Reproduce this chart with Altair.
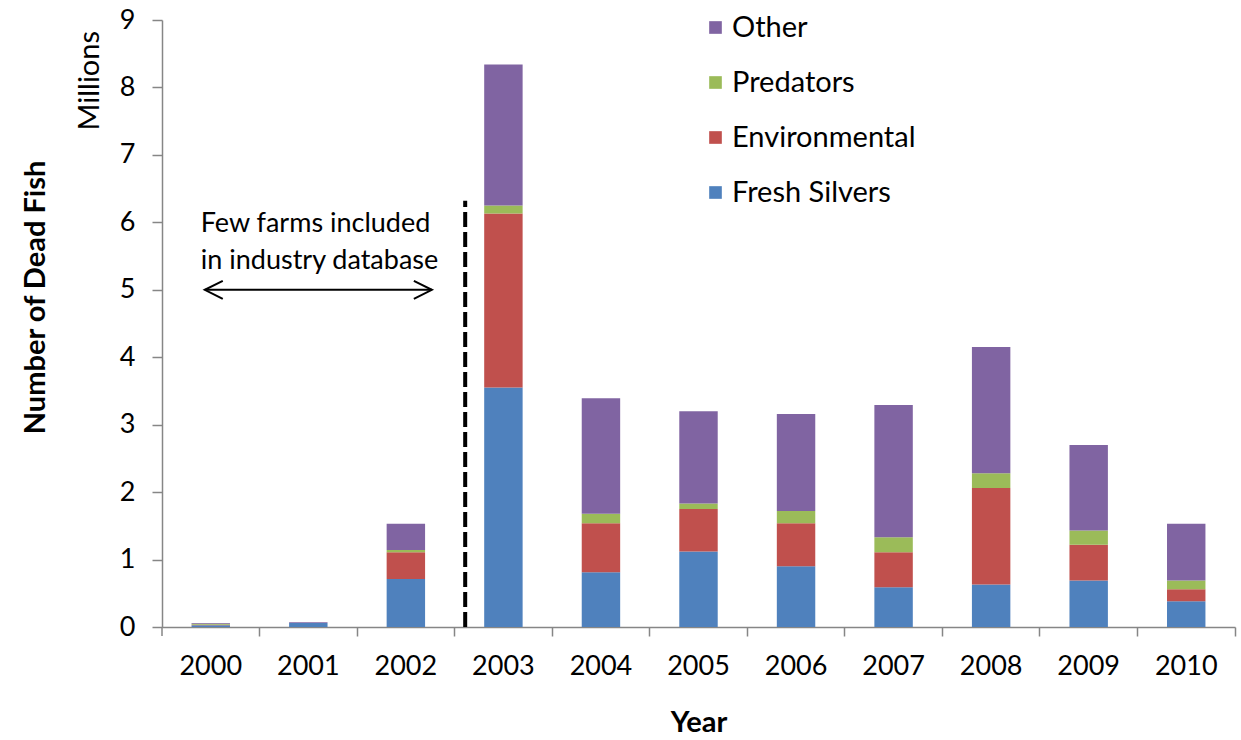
import altair as alt
import pandas as pd

# Dead fish by cause and year (millions)
years = ["2000", "2001", "2002", "2003", "2004", "2005", "2006", "2007", "2008", "2009", "2010"]
fresh_silvers = [0.025, 0.06, 0.71, 3.55, 0.81, 1.12, 0.90, 0.59, 0.63, 0.69, 0.38]
environmental = [0.01, 0.0, 0.40, 2.58, 0.73, 0.63, 0.64, 0.52, 1.43, 0.53, 0.18]
predators = [0.015, 0.0, 0.03, 0.12, 0.14, 0.08, 0.18, 0.22, 0.22, 0.21, 0.13]
other = [0.01, 0.01, 0.39, 2.09, 1.71, 1.37, 1.44, 1.96, 1.87, 1.27, 0.84]

causes = ["Fresh Silvers", "Environmental", "Predators", "Other"]
legend_order = ["Other", "Predators", "Environmental", "Fresh Silvers"]
colors = {"Other": "#8064A2", "Predators": "#9BBB59",
          "Environmental": "#C0504D", "Fresh Silvers": "#4F81BD"}

series = [fresh_silvers, environmental, predators, other]
rows = []
for idx, (cause, vals) in enumerate(zip(causes, series)):
    for yr, v in zip(years, vals):
        rows.append({"Year": yr, "Cause": cause, "Value": v, "stack": idx})
df = pd.DataFrame(rows)

FONT = "Lato"
AXIS_GRAY = "#868686"
PLOT_W = 1073
PAD_INNER = 0.606
STEP = PLOT_W / len(years)
BAND_W = STEP * (1 - PAD_INNER)
GAP_HALF = STEP * PAD_INNER / 2  # distance from a bar edge to the category boundary
TICK_BAND = 1 + GAP_HALF / BAND_W  # ticks on the boundary after each bar

x_enc = alt.X("Year:N", sort=years,
              scale=alt.Scale(domain=years, paddingInner=PAD_INNER, paddingOuter=PAD_INNER / 2),
              axis=alt.Axis(title="Year", labelAngle=0, bandPosition=TICK_BAND,
                            tickSize=9, labelPadding=17,
                            titleFontWeight="bold", titleY=95, titleBaseline="middle"))

bars = alt.Chart(df).mark_bar().encode(
    x=x_enc,
    y=alt.Y("Value:Q", stack="zero",
            scale=alt.Scale(domain=[0, 9], nice=False),
            axis=alt.Axis(title="Number of Dead Fish", values=list(range(10)), format="d",
                          tickSize=10, labelPadding=17, grid=False,
                          titleFontWeight="bold", titleAngle=270,
                          titleX=-127, titleY=277, titleAlign="center",
                          titleBaseline="middle")),
    color=alt.Color("Cause:N",
                    scale=alt.Scale(domain=legend_order,
                                    range=[colors[c] for c in legend_order]),
                    legend=alt.Legend(title=None, orient="none", legendX=539, legendY=-7,
                                      symbolType="square", symbolSize=160,
                                      symbolStrokeWidth=0, labelFontSize=29,
                                      labelFont=FONT, labelOffset=2, labelLimit=400,
                                      rowPadding=25, labelColor="#000000")),
    order=alt.Order("stack:Q", sort="ascending"),
)

# Leading boundary tick below the axis origin
first_tick = alt.Chart(pd.DataFrame({"y": [0.0]})).mark_rule(
    color=AXIS_GRAY, strokeWidth=1.5
).encode(x=alt.value(0), y="y:Q", y2=alt.value(616))

# Dashed divider before 2003
divider = alt.Chart(pd.DataFrame({"y": [0.0], "y2": [6.32]})).mark_rule(
    color="black", strokeWidth=4, strokeDash=[15, 5], xOffset=-19
).encode(
    x=alt.X(datum="2003", bandPosition=0),
    y="y:Q", y2="y2:Q",
)

# Annotation text
note = pd.DataFrame({"y": [5.97, 5.42],
                     "text": ["Few farms included", "in industry database"]})
note_text = alt.Chart(note).mark_text(
    align="left", baseline="middle", fontSize=27, font=FONT, color="black", xOffset=-10
).encode(x=alt.X(datum="2000"), y="y:Q", text="text:N")

# Double-headed arrow
arrow_y = 5.0
arrow_line = alt.Chart(pd.DataFrame({"y": [arrow_y]})).mark_rule(
    color="black", strokeWidth=2, xOffset=-6, x2Offset=26
).encode(x=alt.X(datum="2000"), x2=alt.X2(datum="2002"), y="y:Q")

head_left = alt.Chart(pd.DataFrame({"y": [arrow_y]})).mark_point(
    shape="M1,-1L-1,0L1,1", filled=False, size=324, strokeWidth=2,
    color="black", opacity=1, xOffset=3
).encode(x=alt.X(datum="2000"), y="y:Q")

head_right = alt.Chart(pd.DataFrame({"y": [arrow_y]})).mark_point(
    shape="M-1,-1L1,0L-1,1", filled=False, size=324, strokeWidth=2,
    color="black", opacity=1, xOffset=17
).encode(x=alt.X(datum="2002"), y="y:Q")

# Units label beside the y axis
units = alt.Chart(pd.DataFrame({"y": [8.1], "text": ["Millions"]})).mark_text(
    angle=270, align="center", baseline="middle", fontSize=29, font=FONT, color="black"
).encode(x=alt.value(-72), y="y:Q", text="text:N")

chart = alt.layer(bars, first_tick, divider, note_text, arrow_line, head_left, head_right,
                  units).properties(
    width=PLOT_W, height=607,
    autosize=alt.AutoSizeParams(type="none"),
    padding={"left": 162, "top": 20, "right": 6, "bottom": 113},
).configure_view(stroke=None).configure_axis(
    labelFont=FONT, titleFont=FONT, labelFontSize=27, titleFontSize=29,
    labelColor="black", titleColor="black",
    domainColor=AXIS_GRAY, tickColor=AXIS_GRAY, domainWidth=1.5, tickWidth=1.5,
)

chart.save("out.html", embed_options={"renderer": "svg", "actions": False})
